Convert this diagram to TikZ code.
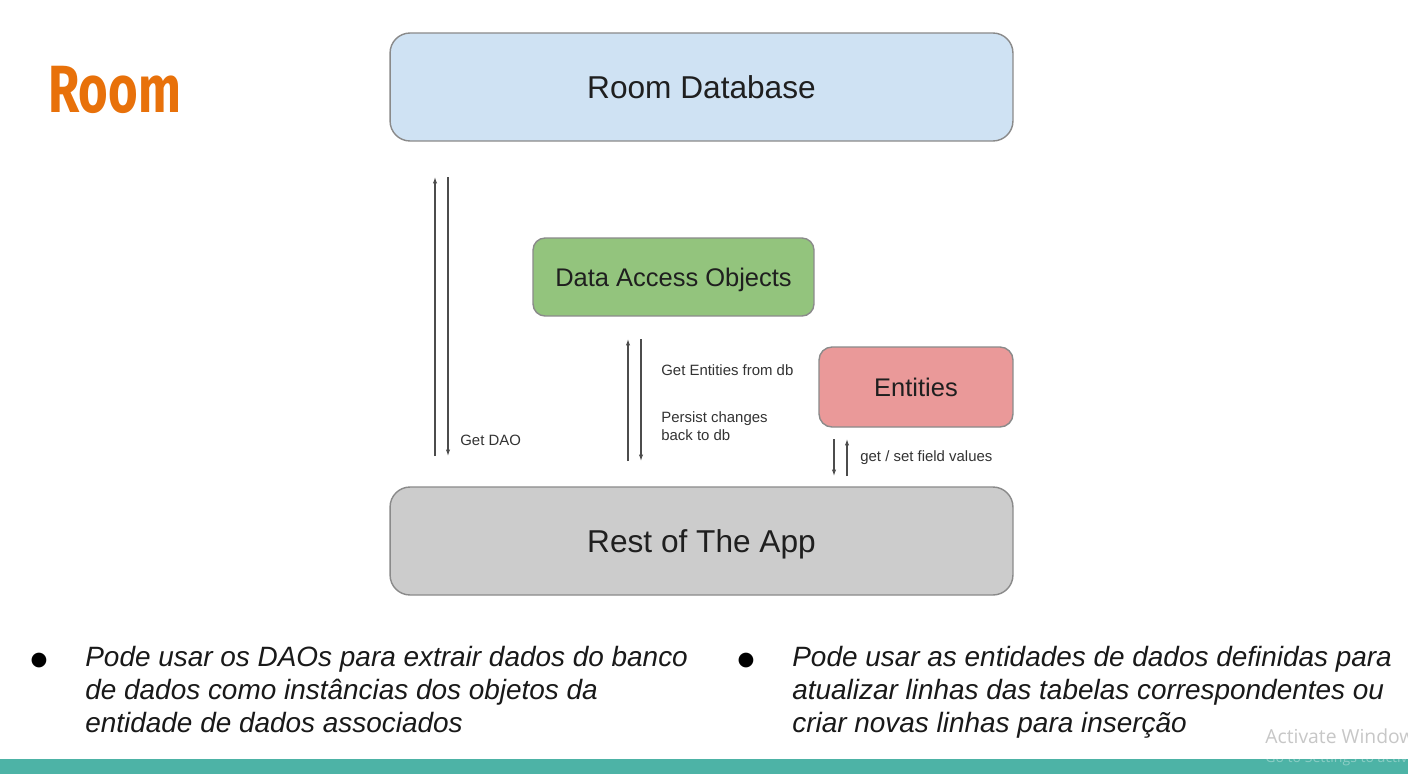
\documentclass[tikz,border=0pt]{standalone}
\usepackage{fontspec}
\setmainfont{Liberation Sans}
\newfontfamily\titlefont{Fira Sans}
\newfontfamily\symfont{DejaVu Sans}
\newfontfamily\wmfont{Open Sans}
\usetikzlibrary{arrows.meta}
\definecolor{roomorange}{HTML}{E8710A}
\definecolor{dbblue}{HTML}{CFE2F3}
\definecolor{daogreen}{HTML}{93C47D}
\definecolor{entred}{HTML}{EA9999}
\definecolor{appgray}{HTML}{CCCCCC}
\definecolor{boxline}{HTML}{8A8A8A}
\definecolor{barteal}{HTML}{4DB3A6}

\begin{document}
\begin{tikzpicture}[x=0.02cm, y=-0.02cm,
    box/.style={draw=boxline, line width=0.8pt, text=black!88, text depth=0pt},
    flow/.style={draw=black!70, line width=0.6pt, -{Latex[length=3.6pt,width=2.4pt]}},
    note/.style={anchor=base west, inner sep=0pt, align=left, text=black!80,
      font=\fontsize{8.5}{10.2}\selectfont},
    point/.style={anchor=north west, inner sep=0pt, align=left, text=black!90,
      font=\fontsize{15.9}{18.7}\selectfont\itshape},
    dot/.style={inner sep=0pt, font=\symfont\fontsize{11}{11}\selectfont}]
  \useasboundingbox[fill=white] (0,0) rectangle (1408,774);

  \node[anchor=base west, inner sep=0pt, text=roomorange,
    font=\titlefont\bfseries\fontsize{38}{40}\selectfont] (title) at (48,112) {\scalebox{0.76}[1]{Room}};

  % boxes
  \node[box, fill=dbblue, rounded corners=0.4cm, minimum width=12.46cm, minimum height=2.16cm,
    font=\fontsize{18}{20}\selectfont] (db) at (701.5,87) {Room Database};
  \node[box, fill=daogreen, rounded corners=0.24cm, minimum width=5.62cm, minimum height=1.56cm,
    font=\fontsize{14.5}{16}\selectfont] (dao) at (673.5,277) {Data Access Objects};
  \node[box, fill=entred, rounded corners=0.26cm, minimum width=3.88cm, minimum height=1.6cm,
    font=\fontsize{14.5}{16}\selectfont] (ent) at (916,387) {Entities};
  \node[box, fill=appgray, rounded corners=0.4cm, minimum width=12.46cm, minimum height=2.16cm,
    font=\fontsize{18}{20}\selectfont] (app) at (701.5,541) {Rest of The App};

  % arrow ends
  \coordinate (a1) at (435,456); \coordinate (a2) at (435,177);
  \coordinate (a3) at (448,177); \coordinate (a4) at (448,456);
  \coordinate (b1) at (628,461); \coordinate (b2) at (628,339);
  \coordinate (b3) at (641,339); \coordinate (b4) at (641,461);
  \coordinate (c1) at (834,439); \coordinate (c2) at (834,476);
  \coordinate (c3) at (847,476); \coordinate (c4) at (847,439);

  \draw[flow] (a1) -- (a2);
  \draw[flow] (a3) -- (a4);
  \draw[flow] (b1) -- (b2);
  \draw[flow] (b3) -- (b4);
  \draw[flow] (c1) -- (c2);
  \draw[flow] (c3) -- (c4);

  \node[note] (getdao) at (460,445) {Get DAO};
  \node[note] (getent) at (661,375) {Get Entities from db};
  \node[note] (persist) at (661,440) {Persist changes\\back to db};
  \node[note] (field) at (860,461) {get / set field values};

  % bullets
  \node[dot] (dot1) at (39,660) {●};
  \node[point] (txt1) at (85,646) {Pode usar os DAOs para extrair dados do banco\\de dados como instâncias dos objetos da\\entidade de dados associados};
  \node[dot] (dot2) at (746,660) {●};
  \node[point] (txt2) at (792,646) {Pode usar as entidades de dados definidas para\\atualizar linhas das tabelas correspondentes ou\\criar novas linhas para inserção};

  \fill[barteal] (0,759) rectangle (1408,774);
  \node[anchor=base west, inner sep=0pt, text=black!22, font=\wmfont\fontsize{11}{12}\selectfont] (wm1) at (1265,743) {Activate Windows};
  \node[anchor=base west, inner sep=0pt, text=white, opacity=0.35, font=\wmfont\fontsize{8}{9}\selectfont] (wm2) at (1265,762) {Go to Settings to activate Windows.};
\end{tikzpicture}
\end{document}
